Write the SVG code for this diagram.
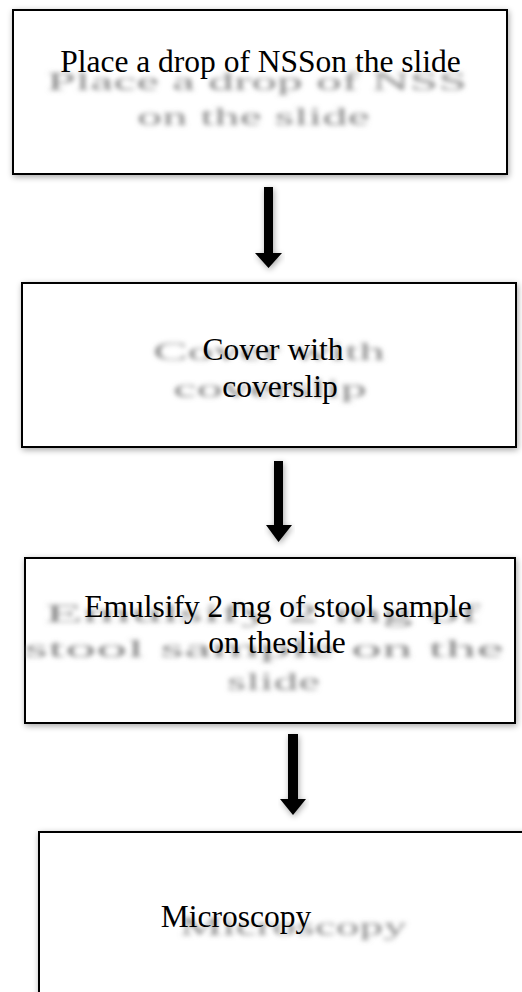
<svg xmlns="http://www.w3.org/2000/svg" width="522" height="992" viewBox="0 0 522 992">
<defs>
<filter id="shadow" x="-10%" y="-10%" width="120%" height="120%">
<feGaussianBlur in="SourceAlpha" stdDeviation="3"/>
<feOffset dx="1" dy="2" result="b"/>
<feComponentTransfer><feFuncA type="linear" slope="0.35"/></feComponentTransfer>
<feMerge><feMergeNode/><feMergeNode in="SourceGraphic"/></feMerge>
</filter>
<filter id="blur" x="-10%" y="-50%" width="120%" height="200%">
<feGaussianBlur stdDeviation="2.6"/>
</filter>
</defs>
<style>
.box{fill:#fff;stroke:#000;stroke-width:2;filter:url(#shadow)}
.t{font-size:31.5px;fill:#000;text-anchor:middle}
.g{font-size:25px;fill:#8a8a8a;filter:url(#blur)}
.arr{fill:#000;filter:url(#shadow)}
</style>
<rect width="522" height="992" fill="#fff"/>
<g font-family="Liberation Serif, serif">
<g id="node1">
<rect class="box" x="13" y="10" width="494" height="164"/>
<text class="g" x="47" y="90" textLength="420" lengthAdjust="spacingAndGlyphs">Place a drop of NSS</text>
<text class="g" x="137" y="125" textLength="233" lengthAdjust="spacingAndGlyphs">on the slide</text>
<text class="t" x="260.5" y="72">Place a drop of NSSon the slide</text>
</g>
<g id="node2">
<rect class="box" x="22" y="283" width="494" height="164"/>
<text class="g" x="153" y="360" textLength="232" lengthAdjust="spacingAndGlyphs">Cover with</text>
<text class="g" x="173" y="397" textLength="194" lengthAdjust="spacingAndGlyphs">coverslip</text>
<text class="t" x="273" y="360">Cover with</text>
<text class="t" x="280" y="397">coverslip</text>
</g>
<g id="node3">
<rect class="box" x="25" y="558" width="490" height="165"/>
<text class="g" x="45" y="622" textLength="435" lengthAdjust="spacingAndGlyphs">Emulsify 2 mg of</text>
<text class="g" x="24" y="657" textLength="480" lengthAdjust="spacingAndGlyphs">stool sample on the</text>
<text class="g" x="227" y="690" textLength="93" lengthAdjust="spacingAndGlyphs">slide</text>
<text class="t" x="278" y="617">Emulsify 2 mg of stool sample</text>
<text class="t" x="277" y="653">on theslide</text>
</g>
<g id="node4">
<rect class="box" x="39" y="832" width="500" height="180"/>
<text class="g" x="180" y="935" textLength="227" lengthAdjust="spacingAndGlyphs">Microscopy</text>
<text class="t" x="236" y="927">Microscopy</text>
</g>
</g>
<g id="connectors">
<polygon class="arr" points="264,187 273,187 273,253 282,253 268.5,268 255,253 264,253"/>
<polygon class="arr" points="274,461 283,461 283,525 292,525 278.5,542 266,525 274,525"/>
<polygon class="arr" points="288,734 298,734 298,799 306,799 293,815 280,799 288,799"/>
</g>
</svg>
